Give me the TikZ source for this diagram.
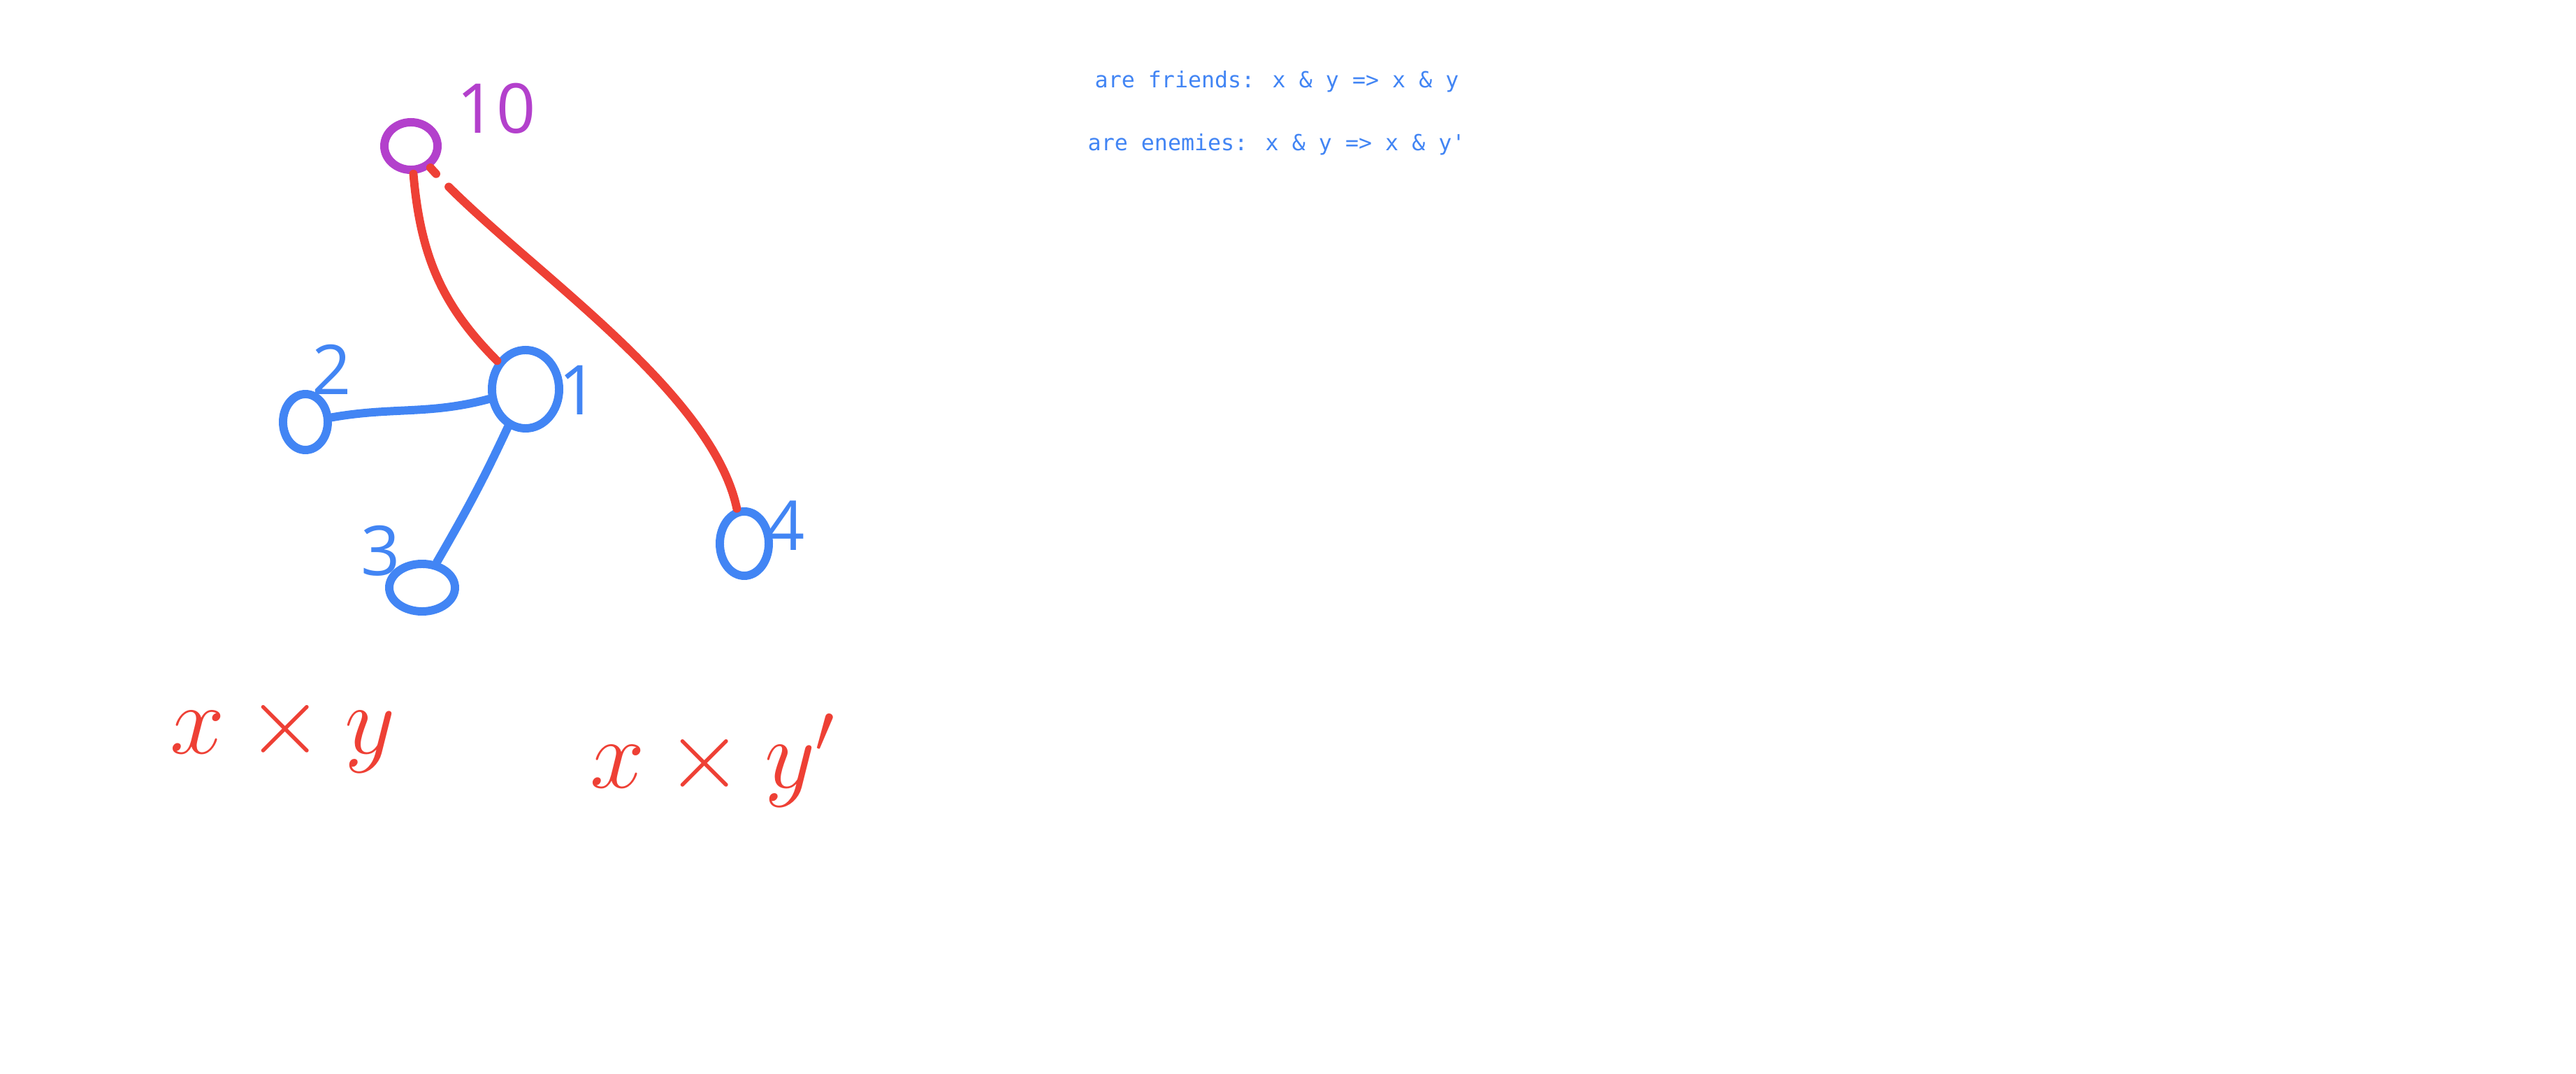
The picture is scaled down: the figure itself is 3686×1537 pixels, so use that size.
\RequirePackage{fix-cm}
\documentclass[tikz,border=0pt]{standalone}
\usepackage{fontspec}
\newfontfamily\codefont{DejaVu Sans Mono}
\newfontfamily\digitfont{Open Sans}
\usetikzlibrary{shapes.geometric}
\definecolor{penred}{HTML}{EE4035}
\definecolor{penblue}{HTML}{4285F4}
\definecolor{penpurple}{HTML}{B340CC}

\begin{document}
\begin{tikzpicture}[x=0.01cm,y=-0.01cm,
      stroke/.style={line width=3.4pt, line cap=round, line join=round},
      vertex/.style={stroke, draw=penblue, ellipse, inner sep=0pt},
      rootvertex/.style={vertex, draw=penpurple},
      tag/.style={font=\digitfont\fontsize{28}{30}\selectfont, inner sep=0pt},
      enemy/.style={stroke, draw=penred},
      friend/.style={stroke, draw=penblue},
      rulebox/.style={font=\codefont\fontsize{9}{11}\selectfont, text=penblue, anchor=west, inner sep=0pt},
      product/.style={font=\fontsize{40}{46}\selectfont, text=penred, anchor=base, inner sep=0pt}
    ]
    \useasboundingbox (0,0) rectangle (3686,1537);
    \node[rootvertex, minimum width=0.76cm, minimum height=0.68cm] (n0) at (588,209) {};
    \foreach \vname/\vx/\vy/\vw/\vh in {1/752/557/0.96/1.12,2/437/604/0.64/0.80,3/604/841/0.94/0.68,4/1065/778/0.70/0.92}{%
      \node[vertex, minimum width=\vw cm, minimum height=\vh cm] (n\vname) at (\vx,\vy) {};
    }
    \node[tag, text=penpurple] (t0) at (710,155) {10};
    \foreach \vname/\vx/\vy in {1/828/558,2/475/529,3/545/788,4/1124/752}{%
      \node[tag, text=penblue] (t\vname) at (\vx,\vy) {\vname};
    }
    \draw[enemy] (n0) to[out=-85,in=135] (n1);
    \draw[enemy, dash pattern={on 0.12cm off 0.26cm on 40cm}] (n0) to[out=-48,in=102,looseness=0.7] (n4);
    \draw[friend] (n1) to[out=195,in=10] (n2);
    \draw[friend] (n1) to[out=-115,in=60] (n3);
    \node[rulebox] (r1) at (1566,117) {are friends: x \& y => x \& y};
    \node[rulebox] (r2) at (1556,207) {are enemies: x \& y => x \& y'};
    \node[product] (p1) at (405,1079) {$x \times y$};
    \node[product] (p2) at (1020,1128) {$x \times y'$};
  \end{tikzpicture}
\end{document}
